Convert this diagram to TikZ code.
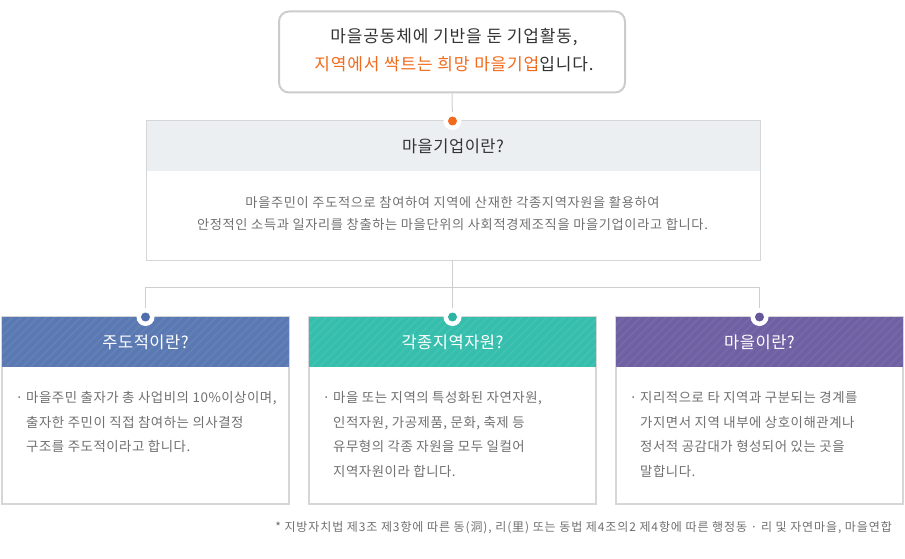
\documentclass[tikz,border=0pt]{standalone}
\usepackage{fontspec}
\setmainfont{Noto Sans CJK KR}
\usetikzlibrary{patterns.meta}
\definecolor{orng}{HTML}{F26A1B}
\definecolor{txtdark}{HTML}{333333}
\definecolor{txtgray}{HTML}{707070}
\definecolor{bordergray}{HTML}{D6D6D6}
\definecolor{topborder}{HTML}{CCCCCC}
\definecolor{midhead}{HTML}{ECEFF2}
\definecolor{hblue}{HTML}{5A79B3}
\definecolor{hteal}{HTML}{36BEAD}
\definecolor{hpurple}{HTML}{6F60A3}
\definecolor{dblue}{HTML}{4F6EAB}
\definecolor{dteal}{HTML}{2DB4A2}
\definecolor{dpurple}{HTML}{66579A}
\definecolor{conncol}{HTML}{CFCFCF}
\tikzset{
  conn/.style={draw=conncol, line width=1pt},
  dotring/.style={circle, fill=white, inner sep=0pt, minimum size=18pt},
  dotcore/.style={circle, inner sep=0pt, minimum size=9pt},
  titletxt/.style={font=\fontsize{16.5}{20}\selectfont\addfontfeature{LetterSpace=3}, inner sep=0pt},
  bodytxt/.style={font=\fontsize{13.4}{24.5}\selectfont\addfontfeature{LetterSpace=4}, text=txtgray, inner sep=0pt, align=left, anchor=north west},
  boxframe/.style={draw=bordergray, line width=1.5pt, fill=white},
  stripes/.style={pattern={Lines[angle=45,distance=6pt,line width=2pt]}, pattern color=white, opacity=0.05}
}
\begin{document}
\begin{tikzpicture}[x=1pt,y=-1pt]
\useasboundingbox (0,0) rectangle (905,559);
% top box
\node[draw=topborder, line width=2pt, rounded corners=10pt, fill=white, minimum width=346pt, minimum height=81pt, inner sep=0pt] (top) at (452,52) {};
\node[font=\fontsize{17}{27.5}\selectfont\addfontfeature{LetterSpace=5}, text=txtdark, align=center, inner sep=0pt] (toptext) at (454,50)
  {마을공동체에 기반을 둔 기업활동,\\\textcolor{orng}{지역에서 싹트는 희망 마을기업}입니다.};
% middle box
\fill[midhead] (146,121) rectangle (760,171);
\fill[stripes] (146,121) rectangle (760,171);
\draw[draw=bordergray, line width=1pt] (146,121) rectangle (760,260);
\node[titletxt, text=txtdark] (mhead) at (453,146) {마을기업이란?};
\node[font=\fontsize{13.2}{22}\selectfont\addfontfeature{LetterSpace=5}, text=txtgray, align=center, inner sep=0pt] (mbody) at (452.5,213.5)
  {마을주민이 주도적으로 참여하여 지역에 산재한 각종지역자원을 활용하여\\안정적인 소득과 일자리를 창출하는 마을단위의 사회적경제조직을 마을기업이라고 합니다.};
\coordinate (mbot) at (452.5,260);
\coordinate (jc) at (452.5,287);
\coordinate (jl) at (145.5,287);
\coordinate (jr) at (759.5,287);
% connectors
\coordinate (mtop) at (452.5,121);
\draw[conn] (top.south) -- (mtop);
\draw[conn] (mbot) -- (jc);
\draw[conn] (jl) -- (jr);
\coordinate (dl) at (145.5,317);
\coordinate (dm) at (452.5,317);
\coordinate (dr) at (759.5,317);
\draw[conn] (jl) -- (dl);
\draw[conn] (jc) -- (dm);
\draw[conn] (jr) -- (dr);
% top dot
\node[dotring] (tdot) at (mtop) {};
\node[dotcore, fill=orng] (tdotc) at (mtop) {};
% bottom boxes
\foreach \xa/\xb/\col/\nm in {2/289/hblue/l, 309/596/hteal/m, 616/903/hpurple/r}{
  \draw[boxframe] (\xa,317) rectangle (\xb,504);
  \fill[\col] (\xa,317) rectangle (\xb,367);
  \fill[stripes] (\xa,317) rectangle (\xb,367);
}
\node[titletxt, text=white] (lhead) at (145.5,342.5) {주도적이란?};
\node[titletxt, text=white] (mhead2) at (452.5,342.5) {각종지역자원?};
\node[titletxt, text=white] (rhead) at (759.5,342.5) {마을이란?};
\node[dotring] (dlr) at (dl) {};
\node[dotcore, fill=dblue] (dlc) at (dl) {};
\node[dotring] (dmr) at (dm) {};
\node[dotcore, fill=dteal] (dmc) at (dm) {};
\node[dotring] (drr) at (dr) {};
\node[dotcore, fill=dpurple] (drc) at (dr) {};
\node[bodytxt] (lbody) at (26,391.5)
  {\llap{·\hspace{3pt}}마을주민 출자가 총 사업비의 10\%이상이며,\\출자한 주민이 직접 참여하는 의사결정\\구조를 주도적이라고 합니다.};
\node[bodytxt] (mbody2) at (333,391.5)
  {\llap{·\hspace{3pt}}마을 또는 지역의 특성화된 자연자원,\\인적자원, 가공제품, 문화, 축제 등\\유무형의 각종 자원을 모두 일컬어\\지역자원이라 합니다.};
\node[bodytxt] (rbody) at (640,391.5)
  {\llap{·\hspace{3pt}}지리적으로 타 지역과 구분되는 경계를\\가지면서 지역 내부에 상호이해관계나\\정서적 공감대가 형성되어 있는 곳을\\말합니다.};
% footnote
\node[font=\fontsize{12}{14}\selectfont\addfontfeature{LetterSpace=7.5}, text=txtgray, inner sep=0pt, anchor=east] (foot) at (892,528)
  {* 지방자치법 제3조 제3항에 따른 동(洞), 리(里) 또는 동법 제4조의2 제4항에 따른 행정동 · 리 및 자연마을, 마을연합};
\end{tikzpicture}
\end{document}
